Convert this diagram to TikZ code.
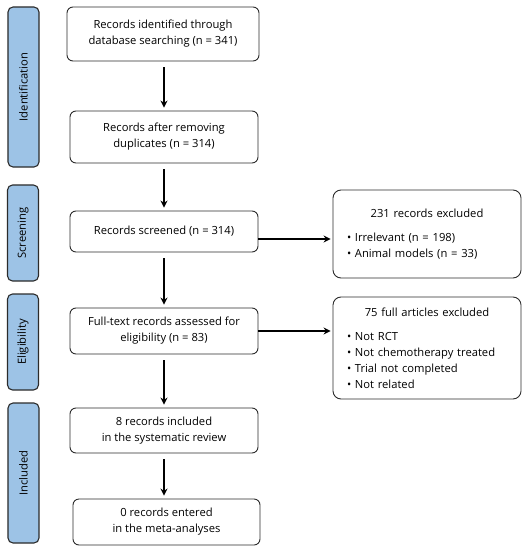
\documentclass[tikz,border=0pt]{standalone}
\usepackage{fontspec}
\setmainfont{Open Sans}
\usetikzlibrary{arrows.meta}

\definecolor{stageblue}{HTML}{9DC3E6}
\definecolor{edgegray}{HTML}{2B2B2B}

\begin{document}
\begin{tikzpicture}[x=1bp, y=-1bp,
    font=\fontsize{11.2bp}{16bp}\selectfont,
    stage/.style={draw=edgegray, line width=1.1pt, fill=stageblue, rounded corners=5bp,
        rotate=90, minimum height=31bp, inner sep=0pt},
    recbox/.style={draw=edgegray, line width=0.9pt, rounded corners=6bp, align=center,
        minimum width=188bp, inner sep=0pt},
    exclbox/.style={draw=edgegray, line width=0.9pt, rounded corners=8bp,
        minimum width=188bp, text width=160bp, inner ysep=0pt, inner xsep=14bp},
    flow/.style={line width=1.1pt, -{Stealth[length=7bp, width=7bp]},
        shorten <=6bp, shorten >=3bp}]

\useasboundingbox (0,0) rectangle (528,550);

% ============================================
% 1. IDENTIFICATION
% ============================================
\node[stage, minimum width=160bp] (ident) at (23.5,87) {Identification};
\node[recbox, minimum width=192bp, minimum height=54bp] (found) at (163,34)
    {Records identified through\\database searching (n = 341)};
\node[recbox, minimum height=52bp] (dedup) at (164,137)
    {Records after removing\\duplicates (n = 314)};

% ============================================
% 2. SCREENING
% ============================================
\node[stage, minimum width=96bp] (screen) at (23,233) {Screening};
\node[recbox, minimum height=41bp] (screened) at (164,231.5)
    {Records screened (n = 314)};
\node[exclbox, minimum height=88bp] (excl1) at (427,234)
    {\centering 231 records excluded\par\vspace{8bp}
     \raggedright \textbullet\ Irrelevant (n = 198)\\
     \textbullet\ Animal models (n = 33)};

% ============================================
% 3. ELIGIBILITY
% ============================================
\node[stage, minimum width=96bp] (elig) at (23,342) {Eligibility};
\node[recbox, minimum height=46bp] (fulltext) at (164,331)
    {Full-text records assessed for\\eligibility (n = 83)};
\node[exclbox, minimum height=102bp] (excl2) at (427,348)
    {\centering 75 full articles excluded\par\vspace{8bp}
     \raggedright \textbullet\ Not RCT\\
     \textbullet\ Not chemotherapy treated\\
     \textbullet\ Trial not completed\\
     \textbullet\ Not related};

% ============================================
% 4. INCLUDED
% ============================================
\node[stage, minimum width=140bp] (incl) at (23.5,473) {Included};
\node[recbox, minimum height=45bp] (review) at (164,430.5)
    {8 records included\\in the systematic review};
\node[recbox, minimum width=187bp, minimum height=46bp] (meta) at (166.5,522)
    {0 records entered\\in the meta-analyses};

% Pfeile
\draw[flow] (found.south -| dedup.north) -- (dedup.north);
\draw[flow] (dedup) -- (screened);
\draw[flow] (screened) -- (fulltext);
\draw[flow] (fulltext) -- (review);
\draw[flow] (review.south) -- (review.south |- meta.north);
\draw[flow, shorten <=0pt, shorten >=2bp] (screened.east |- 0,239) -- (excl1.west |- 0,239);
\draw[flow, shorten <=0pt, shorten >=2bp] (fulltext.east) -- (excl2.west |- fulltext.east);

\end{tikzpicture}
\end{document}
